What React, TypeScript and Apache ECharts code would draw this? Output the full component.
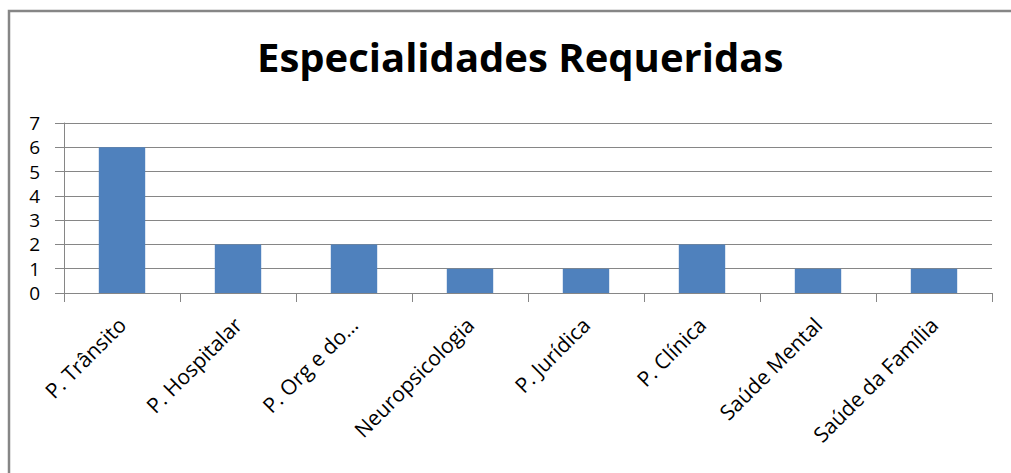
import React, { useEffect, useRef } from "react";
import * as echarts from "echarts";

const titleText = "Especialidades Requeridas";
const categories = [
  "P. Trânsito",
  "P. Hospitalar",
  "P. Org e do…",
  "Neuropsicologia",
  "P. Jurídica",
  "P. Clínica",
  "Saúde Mental",
  "Saúde da Família",
];
const values = [6, 2, 2, 1, 1, 2, 1, 1];

export default function App() {
  const ref = useRef<HTMLDivElement>(null);
  useEffect(() => {
    if (!ref.current) return;
    const chart = echarts.init(ref.current, undefined, { renderer: "svg" });
    const gray = "#868686";
    chart.setOption({
      animation: false,
      backgroundColor: "#ffffff",
      title: {
        text: titleText,
        left: 252,
        top: 31,
        textStyle: {
          fontFamily: "Open Sans",
          fontWeight: "bold",
          fontSize: 40,
          color: "#000000",
        },
      },
      graphic: [
        {
          type: "polyline",
          shape: { points: [[9, 473], [9, 11], [1011, 11]] },
          style: { stroke: gray, lineWidth: 2.5, fill: null },
        },
      ],
      grid: { left: 64, right: 19, top: 123, bottom: 180 },
      xAxis: {
        type: "category",
        data: categories,
        boundaryGap: true,
        axisLine: { lineStyle: { color: gray, width: 1 } },
        axisTick: { show: true, length: 9, interval: 0, lineStyle: { color: gray } },
        axisLabel: {
          rotate: 45,
          interval: 0,
          margin: 28,
          fontFamily: "Open Sans",
          fontSize: 21,
          color: "#000000",
        },
      },
      yAxis: {
        type: "value",
        min: 0,
        max: 7,
        interval: 1,
        axisLine: { show: true, lineStyle: { color: gray, width: 1 } },
        axisTick: { show: true, length: 9, lineStyle: { color: gray } },
        splitLine: { show: true, lineStyle: { color: gray, width: 1 } },
        axisLabel: {
          margin: 24,
          fontFamily: "Open Sans",
          fontSize: 19,
          color: "#000000",
        },
      },
      series: [
        {
          type: "bar",
          data: values,
          barCategoryGap: "60%",
          itemStyle: { color: "#4F81BD" },
        },
      ],
    });
    return () => chart.dispose();
  }, []);
  return (
    <div
      ref={ref}
      style={{ position: "fixed", left: 0, top: 0, width: 1011, height: 473, background: "#fff" }}
    />
  );
}
